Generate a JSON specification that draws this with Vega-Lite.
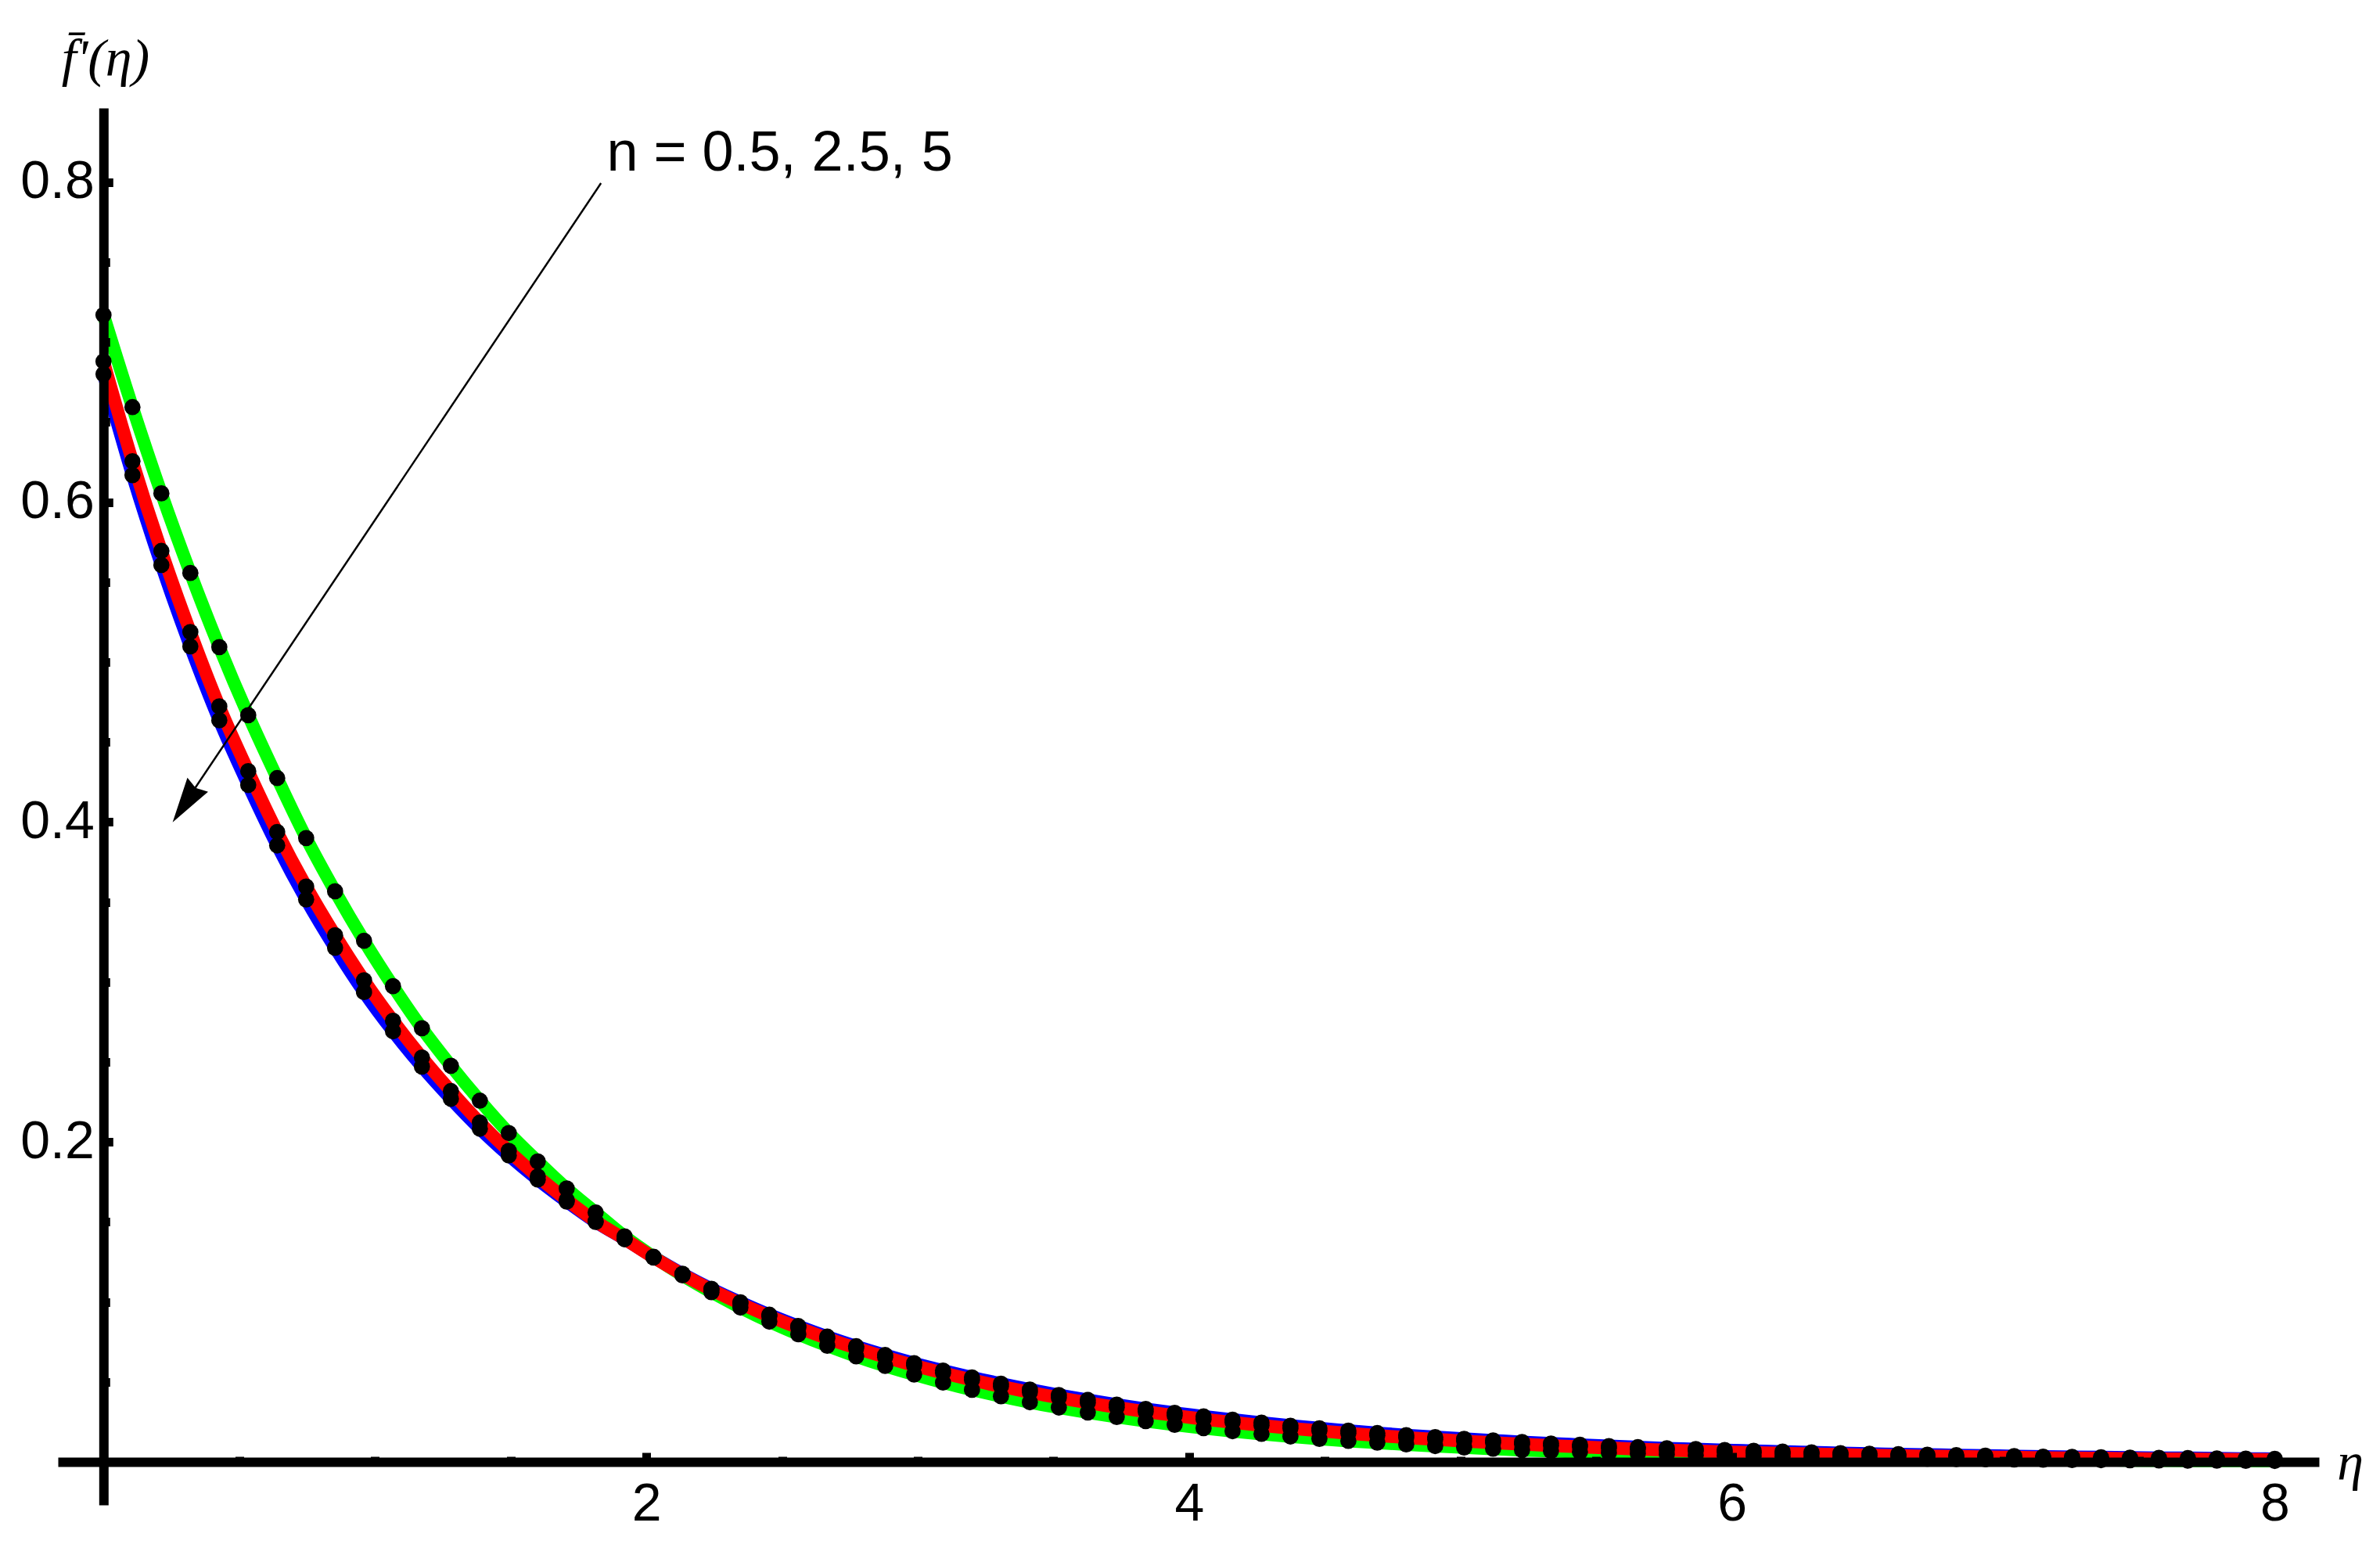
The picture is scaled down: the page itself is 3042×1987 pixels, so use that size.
{
  "$schema": "https://vega.github.io/schema/vega-lite/v6.json",
  "width": 2890,
  "height": 1785,
  "autosize": {"type": "none"},
  "padding": {"left": 74, "top": 138, "right": 78, "bottom": 64},
  "background": "white",
  "config": {"view": {"stroke": null}},
  "resolve": {"axis": {"x": "independent"}},
  "datasets": {
    "curves": [
      {"n":"0.5","eta":0,"f":0.717},{"n":"0.5","eta":0.1067,"f":0.6594},{"n":"0.5","eta":0.2133,"f":0.6055},{"n":"0.5","eta":0.32,"f":0.5557},{"n":"0.5","eta":0.4267,"f":0.5094},{"n":"0.5","eta":0.5333,"f":0.4668},{"n":"0.5","eta":0.64,"f":0.4275},{"n":"0.5","eta":0.7467,"f":0.39},{"n":"0.5","eta":0.8533,"f":0.3567},{"n":"0.5","eta":0.96,"f":0.3258},{"n":"0.5","eta":1.0667,"f":0.2974},{"n":"0.5","eta":1.1733,"f":0.2711},{"n":"0.5","eta":1.28,"f":0.2476},{"n":"0.5","eta":1.3867,"f":0.2258},{"n":"0.5","eta":1.4933,"f":0.2056},{"n":"0.5","eta":1.6,"f":0.1878},{"n":"0.5","eta":1.7067,"f":0.1709},{"n":"0.5","eta":1.8133,"f":0.1559},{"n":"0.5","eta":1.92,"f":0.141},{"n":"0.5","eta":2.0267,"f":0.1282},{"n":"0.5","eta":2.1333,"f":0.1166},{"n":"0.5","eta":2.24,"f":0.1061},{"n":"0.5","eta":2.3467,"f":0.0965},{"n":"0.5","eta":2.4533,"f":0.0877},{"n":"0.5","eta":2.56,"f":0.0798},{"n":"0.5","eta":2.6667,"f":0.0726},{"n":"0.5","eta":2.7733,"f":0.066},{"n":"0.5","eta":2.88,"f":0.06},{"n":"0.5","eta":2.9867,"f":0.0546},{"n":"0.5","eta":3.0933,"f":0.0496},{"n":"0.5","eta":3.2,"f":0.0451},{"n":"0.5","eta":3.3067,"f":0.041},{"n":"0.5","eta":3.4133,"f":0.0373},{"n":"0.5","eta":3.52,"f":0.034},{"n":"0.5","eta":3.6267,"f":0.0309},{"n":"0.5","eta":3.7333,"f":0.0281},{"n":"0.5","eta":3.84,"f":0.0255},{"n":"0.5","eta":3.9467,"f":0.0232},{"n":"0.5","eta":4.0533,"f":0.0211},{"n":"0.5","eta":4.16,"f":0.0192},{"n":"0.5","eta":4.2667,"f":0.0175},{"n":"0.5","eta":4.3733,"f":0.0159},{"n":"0.5","eta":4.48,"f":0.0144},{"n":"0.5","eta":4.5867,"f":0.0131},{"n":"0.5","eta":4.6933,"f":0.012},{"n":"0.5","eta":4.8,"f":0.0109},{"n":"0.5","eta":4.9067,"f":0.0099},{"n":"0.5","eta":5.0133,"f":0.009},{"n":"0.5","eta":5.12,"f":0.0082},{"n":"0.5","eta":5.2267,"f":0.0074},{"n":"0.5","eta":5.3333,"f":0.0068},{"n":"0.5","eta":5.44,"f":0.0062},{"n":"0.5","eta":5.5467,"f":0.0056},{"n":"0.5","eta":5.6533,"f":0.0051},{"n":"0.5","eta":5.76,"f":0.0046},{"n":"0.5","eta":5.8667,"f":0.0042},{"n":"0.5","eta":5.9733,"f":0.0038},{"n":"0.5","eta":6.08,"f":0.0035},{"n":"0.5","eta":6.1867,"f":0.0032},{"n":"0.5","eta":6.2933,"f":0.0029},{"n":"0.5","eta":6.4,"f":0.0026},{"n":"0.5","eta":6.5067,"f":0.0024},{"n":"0.5","eta":6.6133,"f":0.0022},{"n":"0.5","eta":6.72,"f":0.002},{"n":"0.5","eta":6.8267,"f":0.0018},{"n":"0.5","eta":6.9333,"f":0.0016},{"n":"0.5","eta":7.04,"f":0.0015},{"n":"0.5","eta":7.1467,"f":0.0014},{"n":"0.5","eta":7.2533,"f":0.0012},{"n":"0.5","eta":7.36,"f":0.0011},{"n":"0.5","eta":7.4667,"f":0.001},{"n":"0.5","eta":7.5733,"f":0.0009},{"n":"0.5","eta":7.68,"f":0.0008},{"n":"0.5","eta":7.7867,"f":0.0008},{"n":"0.5","eta":7.8933,"f":0.0007},{"n":"0.5","eta":8,"f":0.0006},
      {"n":"2.5","eta":0,"f":0.688},{"n":"2.5","eta":0.1067,"f":0.6256},{"n":"2.5","eta":0.2133,"f":0.5695},{"n":"2.5","eta":0.32,"f":0.5188},{"n":"2.5","eta":0.4267,"f":0.4723},{"n":"2.5","eta":0.5333,"f":0.4318},{"n":"2.5","eta":0.64,"f":0.3938},{"n":"2.5","eta":0.7467,"f":0.3597},{"n":"2.5","eta":0.8533,"f":0.3292},{"n":"2.5","eta":0.96,"f":0.3011},{"n":"2.5","eta":1.0667,"f":0.2758},{"n":"2.5","eta":1.1733,"f":0.2528},{"n":"2.5","eta":1.28,"f":0.2318},{"n":"2.5","eta":1.3867,"f":0.2121},{"n":"2.5","eta":1.4933,"f":0.1944},{"n":"2.5","eta":1.6,"f":0.1784},{"n":"2.5","eta":1.7067,"f":0.1638},{"n":"2.5","eta":1.8133,"f":0.1504},{"n":"2.5","eta":1.92,"f":0.1393},{"n":"2.5","eta":2.0267,"f":0.1278},{"n":"2.5","eta":2.1333,"f":0.1172},{"n":"2.5","eta":2.24,"f":0.1076},{"n":"2.5","eta":2.3467,"f":0.099},{"n":"2.5","eta":2.4533,"f":0.0911},{"n":"2.5","eta":2.56,"f":0.0839},{"n":"2.5","eta":2.6667,"f":0.0772},{"n":"2.5","eta":2.7733,"f":0.0711},{"n":"2.5","eta":2.88,"f":0.0655},{"n":"2.5","eta":2.9867,"f":0.0603},{"n":"2.5","eta":3.0933,"f":0.0556},{"n":"2.5","eta":3.2,"f":0.0512},{"n":"2.5","eta":3.3067,"f":0.0472},{"n":"2.5","eta":3.4133,"f":0.0435},{"n":"2.5","eta":3.52,"f":0.0401},{"n":"2.5","eta":3.6267,"f":0.037},{"n":"2.5","eta":3.7333,"f":0.0341},{"n":"2.5","eta":3.84,"f":0.0314},{"n":"2.5","eta":3.9467,"f":0.029},{"n":"2.5","eta":4.0533,"f":0.0267},{"n":"2.5","eta":4.16,"f":0.0247},{"n":"2.5","eta":4.2667,"f":0.0228},{"n":"2.5","eta":4.3733,"f":0.021},{"n":"2.5","eta":4.48,"f":0.0194},{"n":"2.5","eta":4.5867,"f":0.0179},{"n":"2.5","eta":4.6933,"f":0.0165},{"n":"2.5","eta":4.8,"f":0.0152},{"n":"2.5","eta":4.9067,"f":0.0141},{"n":"2.5","eta":5.0133,"f":0.013},{"n":"2.5","eta":5.12,"f":0.012},{"n":"2.5","eta":5.2267,"f":0.0111},{"n":"2.5","eta":5.3333,"f":0.0102},{"n":"2.5","eta":5.44,"f":0.0094},{"n":"2.5","eta":5.5467,"f":0.0087},{"n":"2.5","eta":5.6533,"f":0.008},{"n":"2.5","eta":5.76,"f":0.0074},{"n":"2.5","eta":5.8667,"f":0.0069},{"n":"2.5","eta":5.9733,"f":0.0063},{"n":"2.5","eta":6.08,"f":0.0058},{"n":"2.5","eta":6.1867,"f":0.0054},{"n":"2.5","eta":6.2933,"f":0.005},{"n":"2.5","eta":6.4,"f":0.0046},{"n":"2.5","eta":6.5067,"f":0.0042},{"n":"2.5","eta":6.6133,"f":0.0039},{"n":"2.5","eta":6.72,"f":0.0036},{"n":"2.5","eta":6.8267,"f":0.0034},{"n":"2.5","eta":6.9333,"f":0.0031},{"n":"2.5","eta":7.04,"f":0.0029},{"n":"2.5","eta":7.1467,"f":0.0026},{"n":"2.5","eta":7.2533,"f":0.0024},{"n":"2.5","eta":7.36,"f":0.0023},{"n":"2.5","eta":7.4667,"f":0.0021},{"n":"2.5","eta":7.5733,"f":0.0019},{"n":"2.5","eta":7.68,"f":0.0018},{"n":"2.5","eta":7.7867,"f":0.0016},{"n":"2.5","eta":7.8933,"f":0.0015},{"n":"2.5","eta":8,"f":0.0014},
      {"n":"5","eta":0,"f":0.68},{"n":"5","eta":0.1067,"f":0.6169},{"n":"5","eta":0.2133,"f":0.5607},{"n":"5","eta":0.32,"f":0.5098},{"n":"5","eta":0.4267,"f":0.4636},{"n":"5","eta":0.5333,"f":0.4232},{"n":"5","eta":0.64,"f":0.3854},{"n":"5","eta":0.7467,"f":0.3516},{"n":"5","eta":0.8533,"f":0.3214},{"n":"5","eta":0.96,"f":0.2937},{"n":"5","eta":1.0667,"f":0.2692},{"n":"5","eta":1.1733,"f":0.2471},{"n":"5","eta":1.28,"f":0.227},{"n":"5","eta":1.3867,"f":0.2083},{"n":"5","eta":1.4933,"f":0.1916},{"n":"5","eta":1.6,"f":0.1765},{"n":"5","eta":1.7067,"f":0.1627},{"n":"5","eta":1.8133,"f":0.15},{"n":"5","eta":1.92,"f":0.1393},{"n":"5","eta":2.0267,"f":0.128},{"n":"5","eta":2.1333,"f":0.1176},{"n":"5","eta":2.24,"f":0.1082},{"n":"5","eta":2.3467,"f":0.0998},{"n":"5","eta":2.4533,"f":0.092},{"n":"5","eta":2.56,"f":0.0849},{"n":"5","eta":2.6667,"f":0.0783},{"n":"5","eta":2.7733,"f":0.0723},{"n":"5","eta":2.88,"f":0.0668},{"n":"5","eta":2.9867,"f":0.0617},{"n":"5","eta":3.0933,"f":0.0571},{"n":"5","eta":3.2,"f":0.0528},{"n":"5","eta":3.3067,"f":0.0489},{"n":"5","eta":3.4133,"f":0.0452},{"n":"5","eta":3.52,"f":0.0418},{"n":"5","eta":3.6267,"f":0.0387},{"n":"5","eta":3.7333,"f":0.0358},{"n":"5","eta":3.84,"f":0.0331},{"n":"5","eta":3.9467,"f":0.0307},{"n":"5","eta":4.0533,"f":0.0284},{"n":"5","eta":4.16,"f":0.0264},{"n":"5","eta":4.2667,"f":0.0245},{"n":"5","eta":4.3733,"f":0.0226},{"n":"5","eta":4.48,"f":0.021},{"n":"5","eta":4.5867,"f":0.0195},{"n":"5","eta":4.6933,"f":0.018},{"n":"5","eta":4.8,"f":0.0167},{"n":"5","eta":4.9067,"f":0.0155},{"n":"5","eta":5.0133,"f":0.0144},{"n":"5","eta":5.12,"f":0.0134},{"n":"5","eta":5.2267,"f":0.0124},{"n":"5","eta":5.3333,"f":0.0115},{"n":"5","eta":5.44,"f":0.0107},{"n":"5","eta":5.5467,"f":0.0099},{"n":"5","eta":5.6533,"f":0.0092},{"n":"5","eta":5.76,"f":0.0085},{"n":"5","eta":5.8667,"f":0.008},{"n":"5","eta":5.9733,"f":0.0074},{"n":"5","eta":6.08,"f":0.0069},{"n":"5","eta":6.1867,"f":0.0064},{"n":"5","eta":6.2933,"f":0.006},{"n":"5","eta":6.4,"f":0.0055},{"n":"5","eta":6.5067,"f":0.0051},{"n":"5","eta":6.6133,"f":0.0048},{"n":"5","eta":6.72,"f":0.0045},{"n":"5","eta":6.8267,"f":0.0042},{"n":"5","eta":6.9333,"f":0.0039},{"n":"5","eta":7.04,"f":0.0036},{"n":"5","eta":7.1467,"f":0.0033},{"n":"5","eta":7.2533,"f":0.0031},{"n":"5","eta":7.36,"f":0.0029},{"n":"5","eta":7.4667,"f":0.0027},{"n":"5","eta":7.5733,"f":0.0025},{"n":"5","eta":7.68,"f":0.0024},{"n":"5","eta":7.7867,"f":0.0022},{"n":"5","eta":7.8933,"f":0.002},{"n":"5","eta":8,"f":0.0019}
    ],
    "note": [{"eta": 1.854, "f": 0.8072, "label": "n = 0.5, 2.5, 5"}],
    "arrow": [{"eta": 1.833, "f": 0.7994, "eta2": 0.338, "f2": 0.4214}],
    "head": [{"eta": 0.301, "f": 0.4116}]
  },
  "layer": [
    {
      "data": {"name": "curves"},
      "transform": [{"filter": "datum.n === '5'"}],
      "mark": {"type": "line", "color": "#0000FF", "strokeWidth": 16.5, "interpolate": "monotone"},
      "encoding": {
        "x": {
          "field": "eta", "type": "quantitative", "title": "η",
          "scale": {"domain": [-0.168, 8.163], "nice": false, "zero": false},
          "axis": {
            "orient": "bottom", "offset": -55,
            "values": [2, 4, 6, 8],
            "format": "d",
            "tickSize": -12,
            "tickWidth": 11, "tickColor": "black",
            "domainColor": "black", "domainWidth": 12,
            "labelFont": "Liberation Sans", "labelFontSize": 68, "labelColor": "black",
            "labelPadding": 32, "labelFlush": false, "labelOverlap": false,
            "grid": false, "zindex": 1,
            "titleFont": "Liberation Serif", "titleFontStyle": "italic", "titleFontWeight": "normal",
            "titleFontSize": 68, "titleColor": "black",
            "titleX": 2929.5, "titleY": 22, "titleAlign": "center", "titleBaseline": "alphabetic", "titleAngle": 0
          }
        },
        "y": {
          "field": "f", "type": "quantitative", "title": "f̄'(η)",
          "scale": {"domain": [-0.0269, 0.8464], "nice": false, "zero": false},
          "axis": {
            "orient": "left", "offset": -58.3,
            "values": [0.05,0.1,0.15,0.2,0.25,0.3,0.35,0.4,0.45,0.5,0.55,0.6,0.65,0.7,0.75,0.8],
            "format": ".1f",
            "labelExpr": "abs(datum.value*5 - round(datum.value*5)) < 0.001 ? datum.label : ''",
            "tickSize": {"condition": {"test": "abs(datum.value*5 - round(datum.value*5)) < 0.001", "value": -12}, "value": -8},
            "tickWidth": 11, "tickColor": "black",
            "domainColor": "black", "domainWidth": 12,
            "labelFont": "Liberation Sans", "labelFontSize": 68, "labelColor": "black",
            "labelPadding": 24, "labelFlush": false, "labelOverlap": false,
            "grid": false, "zindex": 1,
            "titleFont": "Liberation Serif", "titleFontStyle": "italic", "titleFontWeight": "normal",
            "titleFontSize": 68, "titleColor": "black",
            "titleX": 2.2, "titleY": -42, "titleAlign": "center", "titleBaseline": "alphabetic", "titleAngle": 0
          }
        }
      }
    },
    {
      "data": {"name": "curves"},
      "transform": [{"filter": "datum.n === '0.5'"}],
      "mark": {"type": "line", "color": "#00FF00", "strokeWidth": 16.5, "interpolate": "monotone"},
      "encoding": {
        "x": {"field": "eta", "type": "quantitative", "axis": null},
        "y": {"field": "f", "type": "quantitative", "title": "f̄'(η)"}
      }
    },
    {
      "data": {"name": "curves"},
      "transform": [{"filter": "datum.n === '2.5'"}],
      "mark": {"type": "line", "color": "#FF0000", "strokeWidth": 16.5, "interpolate": "monotone"},
      "encoding": {
        "x": {"field": "eta", "type": "quantitative", "axis": null},
        "y": {"field": "f", "type": "quantitative", "title": "f̄'(η)"}
      }
    },
    {
      "data": {"name": "curves"},
      "mark": {"type": "point", "filled": true, "color": "black", "size": 430, "opacity": 1, "shape": "circle"},
      "encoding": {
        "x": {
          "field": "eta", "type": "quantitative",
          "axis": {
            "orient": "top", "offset": -1730,
            "values": [0.5,1,1.5,2.5,3,3.5,4.5,5,5.5,6.5,7,7.5],
            "tickSize": 7, "tickWidth": 11, "tickColor": "black",
            "domain": false, "labels": false, "grid": false, "title": null, "zindex": 1
          }
        },
        "y": {"field": "f", "type": "quantitative", "title": "f̄'(η)"}
      }
    },
    {
      "data": {"name": "arrow"},
      "mark": {"type": "rule", "color": "black", "strokeWidth": 2.5},
      "encoding": {
        "x": {"field": "eta", "type": "quantitative", "axis": null},
        "y": {"field": "f", "type": "quantitative", "title": "f̄'(η)"},
        "x2": {"field": "eta2"},
        "y2": {"field": "f2"}
      }
    },
    {
      "data": {"name": "head"},
      "mark": {"type": "point", "filled": true, "color": "black", "opacity": 1, "size": 3329, "angle": 213.85, "shape": "M0,-1 L0.553,1 L0,0.83 L-0.553,1 Z"},
      "encoding": {
        "x": {"field": "eta", "type": "quantitative", "axis": null},
        "y": {"field": "f", "type": "quantitative", "title": "f̄'(η)"}
      }
    },
    {
      "data": {"name": "note"},
      "mark": {"type": "text", "font": "Liberation Sans", "fontSize": 72, "align": "left", "baseline": "alphabetic", "color": "black"},
      "encoding": {
        "x": {"field": "eta", "type": "quantitative", "axis": null},
        "y": {"field": "f", "type": "quantitative", "title": "f̄'(η)"},
        "text": {"field": "label"}
      }
    }
  ]
}
